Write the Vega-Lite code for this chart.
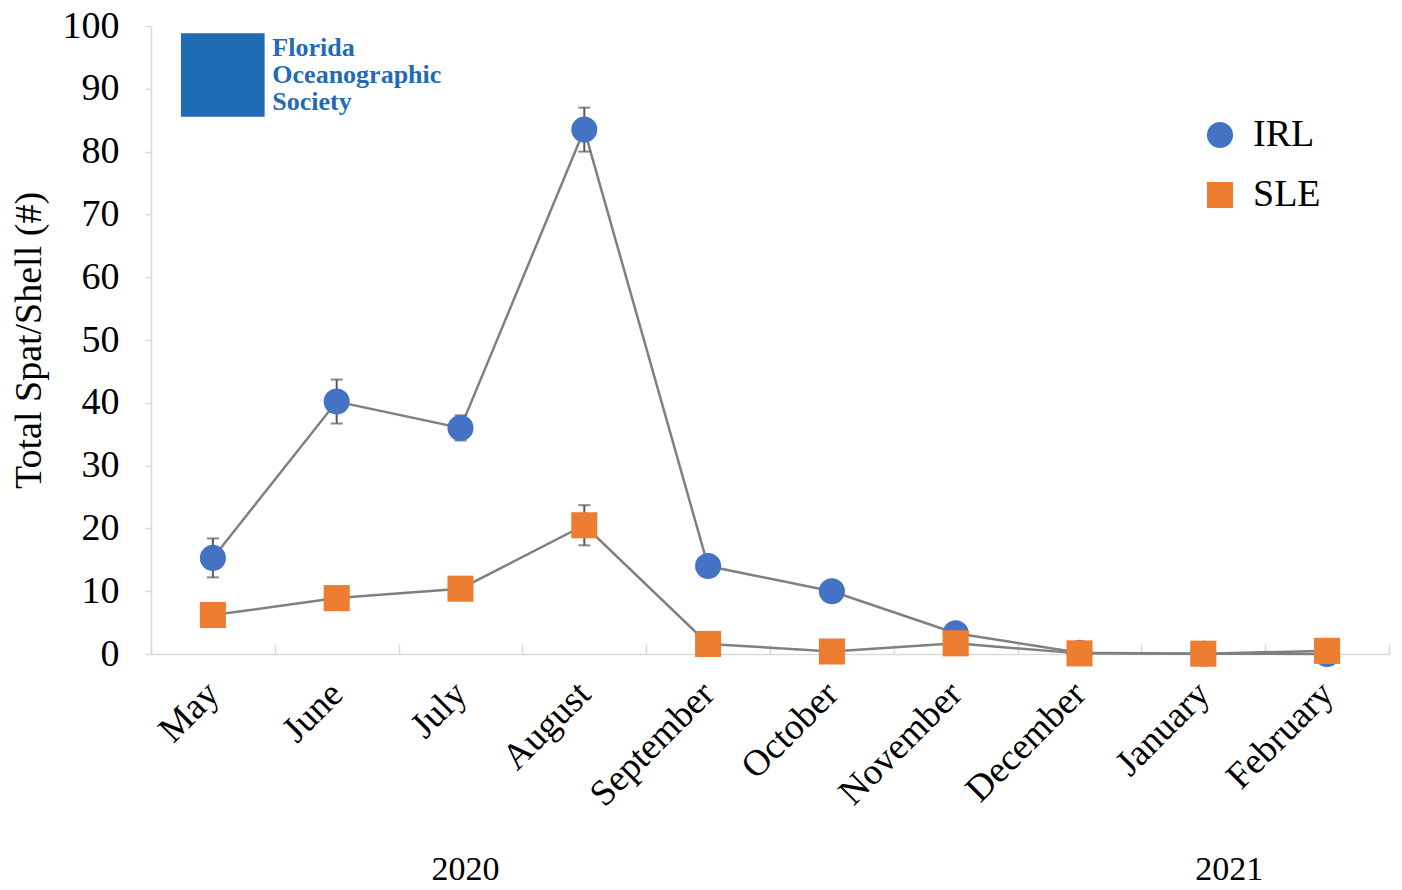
{
  "$schema": "https://vega.github.io/schema/vega-lite/v6.json",
  "width": 1238,
  "height": 628,
  "padding": {"left": 10, "top": 7, "right": 12, "bottom": 5},
  "background": "white",
  "config": {"view": {"stroke": null}, "font": "Liberation Serif"},
  "layer": [
    {
      "data": {"name": "series", "values": [
        {"month": "May", "series": "IRL", "value": 15.3, "err": 3.1},
        {"month": "June", "series": "IRL", "value": 40.2, "err": 3.5},
        {"month": "July", "series": "IRL", "value": 36.0, "err": 2.0},
        {"month": "August", "series": "IRL", "value": 83.5, "err": 3.5},
        {"month": "September", "series": "IRL", "value": 14.0, "err": 1.0},
        {"month": "October", "series": "IRL", "value": 10.0, "err": 0.8},
        {"month": "November", "series": "IRL", "value": 3.3, "err": 0.5},
        {"month": "December", "series": "IRL", "value": 0.2, "err": 0.1},
        {"month": "January", "series": "IRL", "value": 0.05, "err": 0.05},
        {"month": "February", "series": "IRL", "value": 0.0, "err": 0.05},
        {"month": "May", "series": "SLE", "value": 6.2, "err": 0.8},
        {"month": "June", "series": "SLE", "value": 8.9, "err": 0.8},
        {"month": "July", "series": "SLE", "value": 10.4, "err": 0.8},
        {"month": "August", "series": "SLE", "value": 20.5, "err": 3.2},
        {"month": "September", "series": "SLE", "value": 1.6, "err": 0.4},
        {"month": "October", "series": "SLE", "value": 0.4, "err": 0.1},
        {"month": "November", "series": "SLE", "value": 1.7, "err": 0.3},
        {"month": "December", "series": "SLE", "value": 0.1, "err": 0.05},
        {"month": "January", "series": "SLE", "value": 0.05, "err": 0.05},
        {"month": "February", "series": "SLE", "value": 0.5, "err": 0.2}
      ]},
      "encoding": {
        "x": {"field": "month", "type": "nominal",
          "sort": ["May","June","July","August","September","October","November","December","January","February"],
          "scale": {"domain": ["May","June","July","August","September","October","November","December","January","February"], "paddingInner": 0, "paddingOuter": 0},
          "axis": {"title": null, "labelAngle": -45, "labelAlign": "right", "labelBaseline": "middle",
            "labelFontSize": 37, "labelColor": "#000000", "labelPadding": 44,
            "domainColor": "#d9d9d9", "domainWidth": 1.5, "tickColor": "#d9d9d9", "tickWidth": 1.5,
            "tickSize": -10, "tickBand": "extent", "grid": false}},
        "y": {"field": "value", "type": "quantitative",
          "scale": {"domain": [0, 100], "nice": false},
          "axis": {"title": "Total Spat/Shell (#)", "titleFontSize": 38, "titleFontWeight": "normal", "titleColor": "#000000",
            "titlePadding": 14, "values": [0,10,20,30,40,50,60,70,80,90,100],
            "labelFontSize": 38, "labelColor": "#000000", "labelPadding": 26,
            "domainColor": "#d9d9d9", "domainWidth": 1.5, "tickColor": "#d9d9d9", "tickWidth": 1.5, "tickSize": 6, "grid": false}}
      },
      "layer": [
        {"mark": {"type": "line", "color": "#808080", "strokeWidth": 2.5},
         "encoding": {"detail": {"field": "series"}}},
        {"mark": {"type": "errorbar", "color": "#595959", "thickness": 2, "ticks": {"size": 12, "thickness": 2, "color": "#595959"}},
         "encoding": {"yError": {"field": "err"}, "detail": {"field": "series"}}},
        {"mark": {"type": "point", "filled": true, "opacity": 1, "size": 680},
         "encoding": {
           "color": {"field": "series", "type": "nominal", "scale": {"domain": ["IRL","SLE"], "range": ["#4472C4","#ED7D31"]},
             "legend": {"title": null, "orient": "none", "legendX": 1050, "legendY": 90, "labelFontSize": 38, "labelColor": "#000000",
               "symbolSize": 680, "rowPadding": 22, "labelOffset": 14, "symbolStrokeWidth": 0, "symbolOpacity": 1}},
           "shape": {"field": "series", "type": "nominal", "scale": {"domain": ["IRL","SLE"], "range": ["circle","square"]}}
         }}
      ]
    },
    {
      "data": {"values": [{"month": "July", "label": "2020"}]},
      "mark": {"type": "text", "fontSize": 34, "baseline": "middle", "dy": 216, "color": "#000000"},
      "encoding": {"x": {"field": "month", "type": "nominal", "bandPosition": 0.54,
          "sort": ["May","June","July","August","September","October","November","December","January","February"]},
        "y": {"value": "height"}, "text": {"field": "label"}}
    },
    {
      "data": {"values": [{"month": "January", "label": "2021"}]},
      "mark": {"type": "text", "fontSize": 34, "baseline": "middle", "dy": 216, "color": "#000000"},
      "encoding": {"x": {"field": "month", "type": "nominal", "bandPosition": 0.71,
          "sort": ["May","June","July","August","September","October","November","December","January","February"]},
        "y": {"value": "height"}, "text": {"field": "label"}}
    },
    {
      "data": {"values": [{"month": "May", "lvl": 92.2}]},
      "mark": {"type": "square", "color": "#1f6bb5", "opacity": 1, "size": 7000},
      "encoding": {"x": {"field": "month", "type": "nominal", "bandPosition": 0.58,
          "sort": ["May","June","July","August","September","October","November","December","January","February"]},
        "y": {"field": "lvl", "type": "quantitative"}}
    },
    {
      "data": {"values": [{"month": "May", "t": ["Florida", "Oceanographic", "Society"], "lvl": 98.6}]},
      "mark": {"type": "text", "align": "left", "baseline": "top", "fontSize": 26, "fontWeight": "bold", "lineHeight": 27, "color": "#1f6bb5"},
      "encoding": {"x": {"field": "month", "type": "nominal", "bandPosition": 0.98,
          "sort": ["May","June","July","August","September","October","November","December","January","February"]},
        "y": {"field": "lvl", "type": "quantitative"}, "text": {"field": "t"}}
    }
  ]
}
